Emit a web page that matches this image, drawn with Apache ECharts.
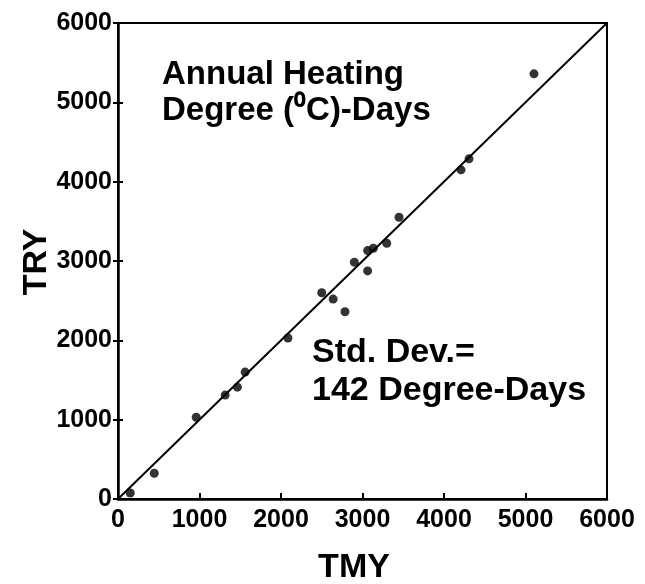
<!DOCTYPE html>
<html>
<head>
<meta charset="utf-8">
<script src="https://cdn.jsdelivr.net/npm/echarts@6/dist/echarts.min.js"></script>
<style>
html,body{margin:0;padding:0;background:#fff;}
#chart{width:645px;height:584px;}
</style>
</head>
<body>
<div id="chart"></div>
<script>
// Data (TMY vs TRY annual heating degree-days)
const tmy = [150, 445, 960, 1315, 1465, 1560, 2085, 2500, 2640, 2785, 2900, 3063, 3063, 3133, 3297, 3448, 4209, 4307, 5104];
const tryVals = [75, 325, 1030, 1310, 1410, 1600, 2030, 2600, 2520, 2360, 2985, 2875, 3131, 3161, 3224, 3552, 4149, 4288, 5359];
const lineX = [0, 6000];
const lineY = [0, 6000];
const axisMin = 0, axisMax = 6000, axisStep = 1000;
const xTitle = 'TMY';
const yTitle = 'TRY';
const note1 = ['Annual Heating', 'Degree (\u2070C)-Days'];
const note2 = ['Std. Dev.=', '142 Degree-Days'];

const FONT = '"Liberation Sans", Arial, sans-serif';
const chart = echarts.init(document.getElementById('chart'), null, {renderer: 'canvas'});

const pts = tmy.map((v, i) => [v, tryVals[i]]);
const linePts = lineX.map((v, i) => [v, lineY[i]]);

const labelStyle = {color: '#000', fontFamily: FONT, fontWeight: 'bold', fontSize: 25, formatter: v => String(v)};
const G = {left: 118, right: 38, top: 23, bottom: 85};

chart.setOption({
  animation: false,
  backgroundColor: '#fff',
  grid: Object.assign({show: true, borderColor: '#000', borderWidth: 2, backgroundColor: 'transparent'}, G),
  xAxis: [{
    type: 'value', min: axisMin, max: axisMax, interval: axisStep,
    axisLine: {lineStyle: {color: '#000', width: 2.5}},
    axisTick: {inside: true, length: 6, lineStyle: {color: '#000', width: 2}},
    axisLabel: Object.assign({margin: 9}, labelStyle),
    splitLine: {show: false}
  }],
  yAxis: [{
    type: 'value', min: axisMin, max: axisMax, interval: axisStep,
    axisLine: {lineStyle: {color: '#000', width: 2.5}},
    axisTick: {inside: false, length: 5, lineStyle: {color: '#000', width: 2}},
    axisLabel: Object.assign({margin: 6}, labelStyle),
    splitLine: {show: false}
  }, {
    type: 'value', min: axisMin, max: axisMax, interval: axisStep, position: 'left',
    axisLine: {show: false},
    axisTick: {inside: true, length: 5, lineStyle: {color: '#000', width: 2}},
    axisLabel: {show: false},
    splitLine: {show: false}
  }],
  series: [{
    type: 'line', data: linePts, showSymbol: false, symbol: 'none',
    lineStyle: {color: '#000', width: 2}, z: 2
  }, {
    type: 'scatter', data: pts, symbol: 'circle', symbolSize: 9,
    itemStyle: {color: '#000'}, z: 3
  }],
  graphic: [
    {type: 'text', x: 354, y: 568, style: {text: xTitle, fill: '#000', font: 'bold 34px ' + FONT, textAlign: 'center', textVerticalAlign: 'middle'}},
    {type: 'text', x: 37, y: 262, rotation: Math.PI / 2, style: {text: yTitle, fill: '#000', font: 'bold 34px ' + FONT, textAlign: 'center', textVerticalAlign: 'middle'}},
    {type: 'text', x: 162, y: 75, style: {text: note1[0], fill: '#000', font: 'bold 33px ' + FONT, textAlign: 'left', textVerticalAlign: 'middle'}},
    {type: 'text', x: 162, y: 111, style: {text: note1[1], fill: '#000', font: 'bold 33px ' + FONT, textAlign: 'left', textVerticalAlign: 'middle'}},
    {type: 'text', x: 312, y: 353, style: {text: note2[0], fill: '#000', font: 'bold 34px ' + FONT, textAlign: 'left', textVerticalAlign: 'middle'}},
    {type: 'text', x: 312, y: 391, style: {text: note2[1], fill: '#000', font: 'bold 34px ' + FONT, textAlign: 'left', textVerticalAlign: 'middle'}}
  ]
});
</script>
</body>
</html>
